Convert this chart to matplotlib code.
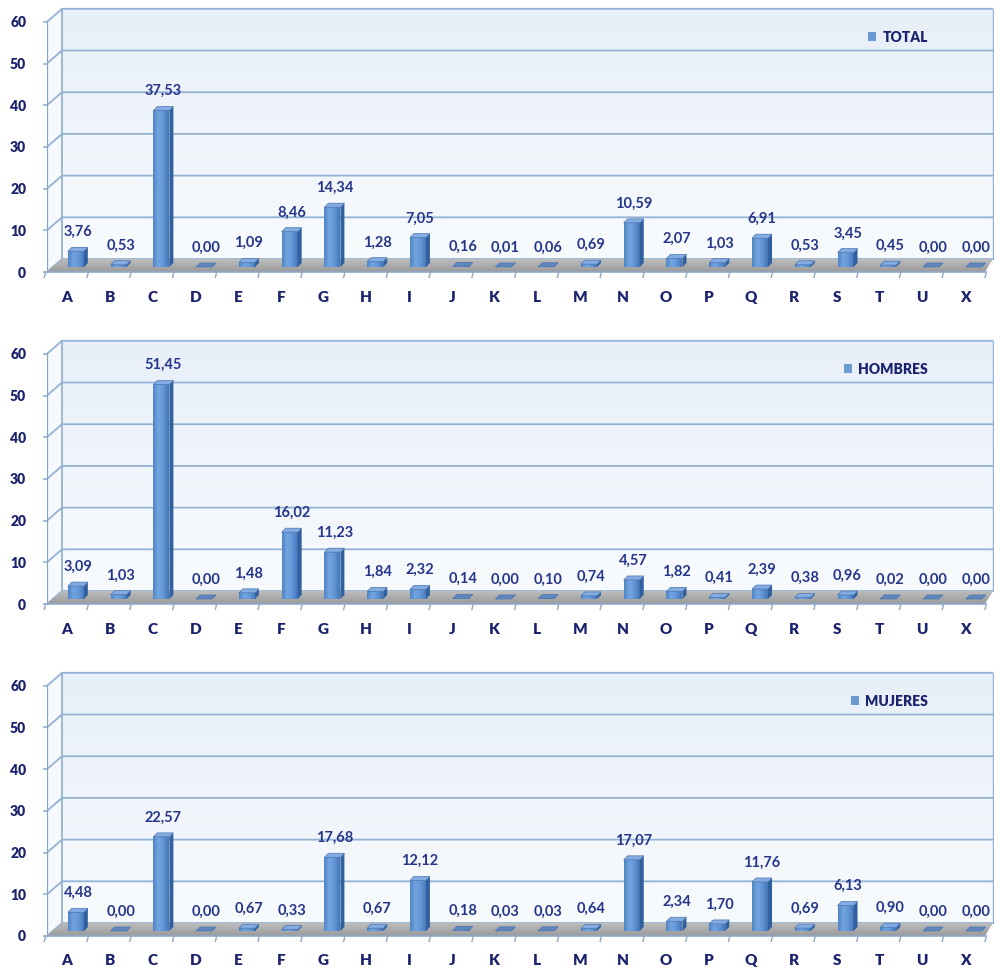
import matplotlib
matplotlib.use('Agg')
import matplotlib.pyplot as plt
import numpy as np
from matplotlib.patches import Polygon, Patch
from matplotlib.colors import LinearSegmentedColormap

categories = ['A', 'B', 'C', 'D', 'E', 'F', 'G', 'H', 'I', 'J', 'K',
              'L', 'M', 'N', 'O', 'P', 'Q', 'R', 'S', 'T', 'U', 'X']
total = [3.76, 0.53, 37.53, 0.00, 1.09, 8.46, 14.34, 1.28, 7.05, 0.16, 0.01,
         0.06, 0.69, 10.59, 2.07, 1.03, 6.91, 0.53, 3.45, 0.45, 0.00, 0.00]
hombres = [3.09, 1.03, 51.45, 0.00, 1.48, 16.02, 11.23, 1.84, 2.32, 0.14, 0.00,
           0.10, 0.74, 4.57, 1.82, 0.41, 2.39, 0.38, 0.96, 0.02, 0.00, 0.00]
mujeres = [4.48, 0.00, 22.57, 0.00, 0.67, 0.33, 17.68, 0.67, 12.12, 0.18, 0.03,
           0.03, 0.64, 17.07, 2.34, 1.70, 11.76, 0.69, 6.13, 0.90, 0.00, 0.00]
series_names = ['TOTAL', 'HOMBRES', 'MUJERES']
y_ticks = [0, 10, 20, 30, 40, 50, 60]

plt.rcParams['font.family'] = ['Lato', 'DejaVu Sans']

W, H = 995, 976
fig = plt.figure(figsize=(W / 100, H / 100), dpi=100)
fig.patch.set_facecolor('white')

zero_px = [272, 604, 936]
k = 4.17                      # pixels per unit
left_px, right_px = 47, 995
x_first_px, x_step_px = 67, 42.76
xmin = -(x_first_px - left_px) / x_step_px
xmax = (right_px - x_first_px) / x_step_px
ylo, yhi = -2.5, 64.5

dz = 13 / k                   # depth of wall (y units)
dxw = 15 / x_step_px          # depth of wall (x units)
xr_wall = (993 - x_first_px) / x_step_px
xr_front = (985 - x_first_px) / x_step_px

bar_off = 0.02
bar_w = 16 / x_step_px
bar_base = 5 / k
bdx = 4 / x_step_px
bdy = 4 / k

grid_col = '#94B3D4'
navy = '#1B236E'
val_col = '#25358A'

bar_cmap = LinearSegmentedColormap.from_list(
    'bar', ['#5084C4', '#74A5E0', '#6195D6', '#4576B8'])
grad = np.linspace(0, 1, 64).reshape(1, -1)
wall_cmap = LinearSegmentedColormap.from_list('wall', ['#E8EFF9', '#F8FBFE'])
floor_cmap = LinearSegmentedColormap.from_list('floor', ['#9A9A9A', '#BDBDBD'])

xs = np.arange(len(categories))
all_series = [total, hombres, mujeres]

for p, (vals, name) in enumerate(zip(all_series, series_names)):
    z = zero_px[p]
    bottom_px = z - ylo * k
    height_px = (yhi - ylo) * k
    ax = fig.add_axes([left_px / W, 1 - bottom_px / H,
                       (right_px - left_px) / W, height_px / H])
    ax.set_facecolor('white')
    for s in ax.spines.values():
        s.set_visible(False)

    # back wall
    ax.imshow(np.linspace(0, 1, 64).reshape(-1, 1), cmap=wall_cmap,
              extent=[xmin + dxw, xr_wall, dz, 60 + dz], aspect='auto',
              origin='upper', zorder=0)
    # left side wall
    ax.add_patch(Polygon([(xmin, 0), (xmin + dxw, dz), (xmin + dxw, 60 + dz),
                          (xmin, 60)], closed=True, facecolor='#F6F9FD',
                         edgecolor='none', zorder=0.5))
    # grid lines (with perspective on side wall)
    for v in y_ticks:
        ax.plot([xmin, xmin + dxw, xr_wall], [v, v + dz, v + dz],
                color=grid_col, lw=1.3, zorder=1, solid_capstyle='butt')
    ax.plot([xmin, xmin], [0, 60], color='#7FA3CB', lw=1.6, zorder=1.2)
    ax.plot([xmin + dxw, xmin + dxw], [dz, 60 + dz], color=grid_col, lw=1.3, zorder=1)
    ax.plot([xr_wall, xr_wall], [dz, 60 + dz], color=grid_col, lw=1.0, zorder=1)

    # floor
    floor = Polygon([(xmin, 0), (xr_front, 0), (xr_wall, dz), (xmin + dxw, dz)],
                    closed=True, facecolor='none', edgecolor='none', zorder=1.5)
    ax.add_patch(floor)
    im = ax.imshow(np.linspace(0, 1, 32).reshape(-1, 1), cmap=floor_cmap,
                   extent=[xmin, xr_wall, 0, dz], aspect='auto', origin='lower',
                   zorder=1.5)
    im.set_clip_path(floor)
    ax.plot([xmin, xr_front], [0, 0], color='#8FA9C9', lw=1.2, zorder=1.6)
    for xb in np.append(xs - 0.5, xs[-1] + 0.5):
        ax.plot([xb, xb - 0.03], [0, -1.3], color='#8FA9C9', lw=1.0,
                zorder=1.6, clip_on=False)

    # bars
    for xi, v in zip(xs, vals):
        xl = xi + bar_off
        xr = xl + bar_w
        b0 = bar_base
        b1 = bar_base + v
        if v > 0:
            ax.imshow(grad, cmap=bar_cmap, extent=[xl, xr, b0, b1],
                      aspect='auto', interpolation='bicubic', zorder=3)
        ax.add_patch(Polygon([(xr, b0), (xr + bdx, b0 + bdy), (xr + bdx, b1 + bdy),
                              (xr, b1)], closed=True, facecolor='#30609E',
                             edgecolor='none', zorder=3))
        ax.add_patch(Polygon([(xl, b1), (xr, b1), (xr + bdx, b1 + bdy),
                              (xl + bdx, b1 + bdy)], closed=True,
                             facecolor='#82ACE2' if v > 0.2 else '#5F86BD',
                             edgecolor='#4C76B0', lw=0.5, zorder=3.1))
        label = f'{v:.2f}'.replace('.', ',')
        ax.annotate(label, xy=(xl + (bar_w + bdx) / 2, b1 + bdy),
                    xytext=(0, 11), textcoords='offset points',
                    ha='center', va='center', fontsize=10.5,
                    fontweight='bold', color=val_col, zorder=5)

    # category labels
    for xi, c in zip(xs, categories):
        ax.text(xi, -25 / k, c, ha='center', va='center', fontsize=11,
                fontweight='heavy', color=navy)

    ax.set_xlim(xmin, xmax)
    ax.set_ylim(ylo, yhi)
    ax.set_xticks([])
    ax.set_yticks(y_ticks)
    ax.set_yticklabels([str(t) for t in y_ticks], fontsize=10,
                       fontweight='heavy', color=navy)
    ax.tick_params(axis='y', length=3, width=1.2, color=grid_col, pad=12)

    ax.legend(handles=[Patch(facecolor='#6C9BD2', edgecolor='none', label=name)],
              loc='center right',
              bbox_to_anchor=((928 - x_first_px) / x_step_px, 235 / k),
              bbox_transform=ax.transData, frameon=False,
              handlelength=0.6, handleheight=0.6, handletextpad=0.45,
              borderpad=0, borderaxespad=0,
              prop={'weight': 'heavy', 'size': 10}, labelcolor=navy)

fig.savefig('out.png', dpi=100, facecolor='white')
